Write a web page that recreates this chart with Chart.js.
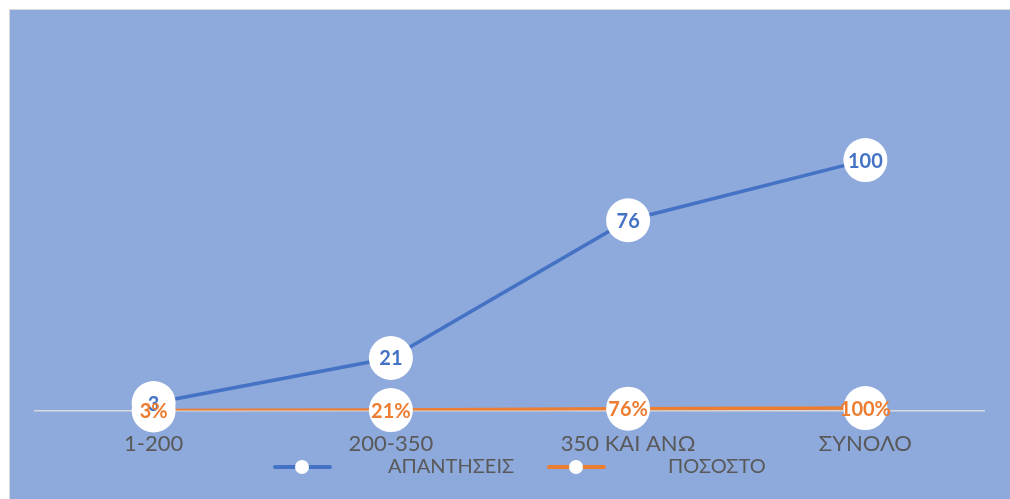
<!DOCTYPE html>
<html>
<head>
<meta charset="utf-8">
<script src="https://cdn.jsdelivr.net/npm/chart.js@4/dist/chart.umd.min.js"></script>
<style>
  html, body { margin: 0; padding: 0; background: #ffffff; }
  #wrap { position: absolute; left: 9px; top: 9px; width: 1000px; height: 489px;
          border: 1px solid #D9D9D9; background: #8EA9DB; }
  #c { display: block; }
</style>
</head>
<body>
<div id="wrap"><canvas id="c" width="1000" height="489"></canvas></div>
<script>
const categories = ['1-200', '200-350', '350 ΚΑΙ ΑΝΩ', 'ΣΥΝΟΛΟ'];
const apantiseis = [3, 21, 76, 100];
const pososto = [0.03, 0.21, 0.76, 1.00];
const seriesNames = ['ΑΠΑΝΤΗΣΕΙΣ', 'ΠΟΣΟΣΤΟ'];
const yTicksMax = 120;

const BLUE = '#4472C4', ORANGE = '#ED7D31', TEXT = '#595959';
const FONT = 'Lato, "Open Sans", "DejaVu Sans", sans-serif';

const labelPlugin = {
  id: 'circleLabels',
  afterDatasetsDraw(chart) {
    const ctx = chart.ctx;
    // circles first
    chart.data.datasets.forEach((ds, di) => {
      chart.getDatasetMeta(di).data.forEach((pt) => {
        ctx.save();
        ctx.beginPath();
        ctx.arc(pt.x, pt.y, 22, 0, Math.PI * 2);
        ctx.fillStyle = '#ffffff';
        ctx.fill();
        ctx.restore();
      });
    });
    // then texts
    chart.data.datasets.forEach((ds, di) => {
      chart.getDatasetMeta(di).data.forEach((pt, i) => {
        ctx.save();
        ctx.fillStyle = ds.borderColor;
        ctx.font = 'bold 20px ' + FONT;
        ctx.textAlign = 'center';
        ctx.textBaseline = 'middle';
        const v = ds.data[i];
        const txt = ds.isPercent ? Math.round(v * 100) + '%' : String(v);
        ctx.fillText(txt, pt.x, pt.y + 1);
        ctx.restore();
      });
    });
  },
  afterDraw(chart) {
    const ctx = chart.ctx;
    const y = 457;
    const items = [{x: 265, tx: 378}, {x: 539, tx: 658}];
    chart.data.datasets.forEach((ds, di) => {
      const it = items[di];
      ctx.save();
      ctx.strokeStyle = ds.borderColor;
      ctx.lineWidth = 4;
      ctx.lineCap = 'round';
      ctx.beginPath();
      ctx.moveTo(it.x, y);
      ctx.lineTo(it.x + 55, y);
      ctx.stroke();
      ctx.beginPath();
      ctx.arc(it.x + 27, y, 7, 0, Math.PI * 2);
      ctx.fillStyle = '#ffffff';
      ctx.fill();
      ctx.fillStyle = TEXT;
      ctx.font = '20px ' + FONT;
      ctx.textAlign = 'left';
      ctx.textBaseline = 'middle';
      ctx.fillText(ds.label, it.tx, y);
      ctx.restore();
    });
  }
};

new Chart(document.getElementById('c'), {
  type: 'line',
  data: {
    labels: categories,
    datasets: [
      { label: seriesNames[0], data: apantiseis, borderColor: BLUE, backgroundColor: BLUE,
        borderWidth: 3.5, pointRadius: 0, tension: 0, isPercent: false },
      { label: seriesNames[1], data: pososto, borderColor: ORANGE, backgroundColor: ORANGE,
        borderWidth: 3.5, pointRadius: 0, tension: 0, isPercent: true }
    ]
  },
  options: {
    responsive: false,
    animation: false,
    events: [],
    layout: { padding: { left: 25, right: 26, top: 100, bottom: 22 } },
    plugins: { legend: { display: false }, tooltip: { enabled: false } },
    scales: {
      x: {
        offset: true,
        grid: { display: false, drawTicks: false },
        border: { display: true, color: '#D9D9D9', width: 1.5 },
        ticks: { color: TEXT, font: { family: FONT, size: 22 }, padding: 20, maxRotation: 0, autoSkip: false }
      },
      y: { display: false, min: 0, max: yTicksMax }
    }
  },
  plugins: [labelPlugin]
});
</script>
</body>
</html>
